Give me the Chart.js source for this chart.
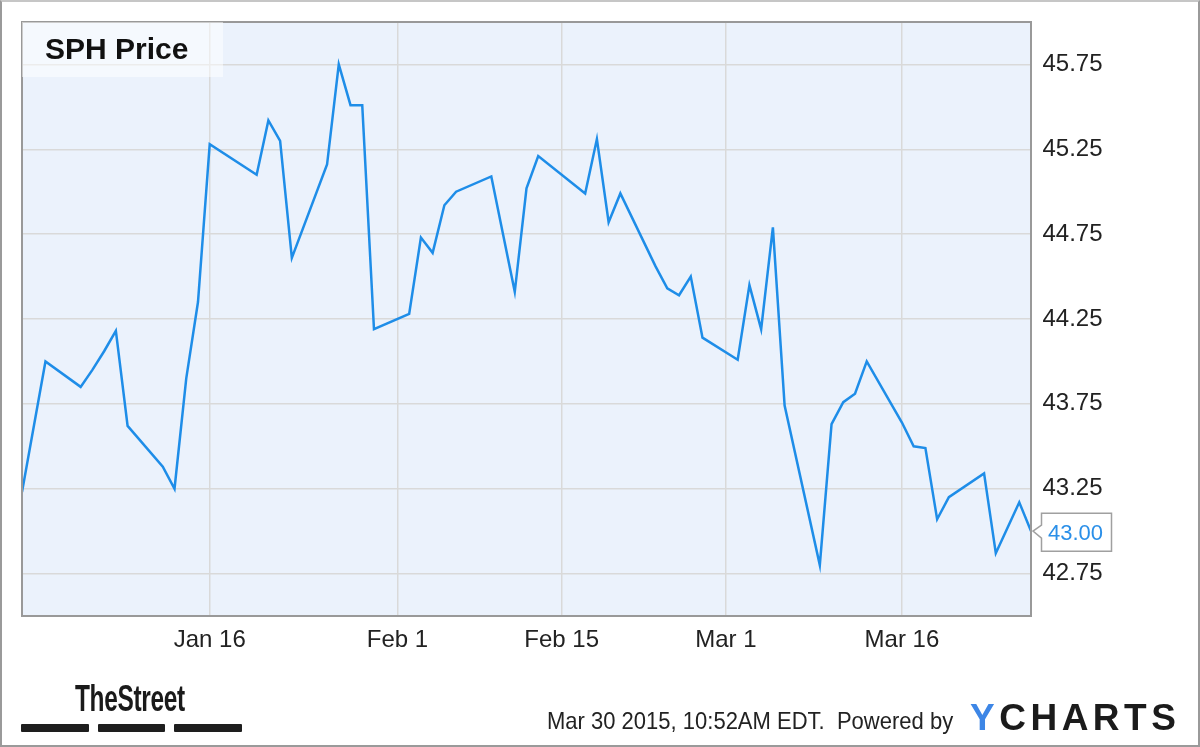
<!DOCTYPE html>
<html>
<head>
<meta charset="utf-8">
<title>SPH Price</title>
<script src="https://cdn.jsdelivr.net/npm/chart.js@4.4.1/dist/chart.umd.min.js"></script>
<style>
html, body { margin: 0; padding: 0; background: #fff; }
#wrap { position: relative; width: 1200px; height: 747px; overflow: hidden; font-family: "Liberation Sans", Arial, sans-serif; }
#chart { position: absolute; left: 0; top: 0; }
#frame { position: absolute; left: 0; top: 0; width: 1200px; height: 747px; box-sizing: border-box; border: 2px solid #9a9a9a; border-top-color: #c6c6c6; pointer-events: none; }
#titlebox { position: absolute; left: 22px; top: 22px; width: 201px; height: 55px; background: rgba(255, 255, 255, 0.5); }
#title { position: absolute; left: 45px; top: 34px; font-weight: bold; font-size: 30px; line-height: 30px; color: #111; white-space: nowrap; }
#street { position: absolute; left: 75px; top: 681px; font-weight: bold; font-size: 36px; line-height: 36px; color: #1a1a1a; transform: scaleX(0.68); transform-origin: left top; white-space: nowrap; letter-spacing: -0.5px; }
.bar { position: absolute; top: 724px; height: 8px; background: #1e1e1e; border-radius: 1px; }
#stamp { position: absolute; left: 547px; top: 709px; font-size: 24px; line-height: 24px; color: #222; transform: scaleX(0.917); transform-origin: left top; white-space: nowrap; }
#ycharts { position: absolute; left: 970px; top: 699px; font-weight: bold; font-size: 37px; line-height: 37px; letter-spacing: 4.5px; color: #1b1b1b; white-space: nowrap; }
#ycharts span { color: #3d86e6; }
</style>
</head>
<body>
<div id="wrap">
  <canvas id="chart" width="1200" height="747"></canvas>
  <div id="titlebox"></div>
  <div id="title">SPH Price</div>
  <div id="street">TheStreet</div>
  <div class="bar" style="left:21px;width:68px"></div>
  <div class="bar" style="left:98px;width:67px"></div>
  <div class="bar" style="left:174px;width:68px"></div>
  <div id="stamp">Mar 30 2015, 10:52AM EDT.&nbsp; Powered by</div>
  <div id="ycharts"><span>Y</span>CHARTS</div>
  <div id="frame"></div>
</div>
<script>
// daily closes, SPH
var dates = [
    '2014-12-31', '2015-01-02', '2015-01-05', '2015-01-06', '2015-01-07', '2015-01-08', '2015-01-09',
    '2015-01-12', '2015-01-13', '2015-01-14', '2015-01-15', '2015-01-16',
    '2015-01-20', '2015-01-21', '2015-01-22', '2015-01-23',
    '2015-01-26', '2015-01-27', '2015-01-28', '2015-01-29', '2015-01-30',
    '2015-02-02', '2015-02-03', '2015-02-04', '2015-02-05', '2015-02-06',
    '2015-02-09', '2015-02-10', '2015-02-11', '2015-02-12', '2015-02-13',
    '2015-02-17', '2015-02-18', '2015-02-19', '2015-02-20',
    '2015-02-23', '2015-02-24', '2015-02-25', '2015-02-26', '2015-02-27',
    '2015-03-02', '2015-03-03', '2015-03-04', '2015-03-05', '2015-03-06',
    '2015-03-09', '2015-03-10', '2015-03-11', '2015-03-12', '2015-03-13',
    '2015-03-16', '2015-03-17', '2015-03-18', '2015-03-19', '2015-03-20',
    '2015-03-23', '2015-03-24', '2015-03-25', '2015-03-26', '2015-03-27'
];
var prices = [
    43.23, 44.00, 43.85, 43.95, 44.06, 44.18, 43.62,
    43.38, 43.25, 43.90, 44.35, 45.28,
    45.10, 45.42, 45.30, 44.61,
    45.16, 45.75, 45.51, 45.51, 44.19,
    44.28, 44.73, 44.64, 44.92, 45.00,
    45.09, 44.75, 44.41, 45.02, 45.21,
    44.99, 45.31, 44.82, 44.99,
    44.56, 44.43, 44.39, 44.50, 44.14,
    44.01, 44.45, 44.19, 44.79, 43.74,
    42.80, 43.63, 43.76, 43.81, 44.00,
    43.64, 43.50, 43.49, 43.07, 43.20,
    43.34, 42.87, 43.02, 43.17, 43.00
];
var xTickDates = ['2015-01-16', '2015-02-01', '2015-02-15', '2015-03-01', '2015-03-16'];
var xTickLabels = ['Jan 16', 'Feb 1', 'Feb 15', 'Mar 1', 'Mar 16'];
var yTicks = [42.75, 43.25, 43.75, 44.25, 44.75, 45.25, 45.75];
var yMin = 42.5, yMax = 46.0;

// days since Jan 1 2015, so the x axis is calendar time
function dayNum(s) {
    var p = s.split('-');
    return (Date.UTC(+p[0], +p[1] - 1, +p[2]) - Date.UTC(2015, 0, 1)) / 86400000;
}
var points = dates.map(function (d, i) { return { x: dayNum(d), y: prices[i] }; });
var xTickDays = xTickDates.map(dayNum);

var plotFrame = {
    id: 'plotFrame',
    beforeDraw: function (chart) {
        var a = chart.chartArea, c = chart.ctx;
        c.save();
        c.fillStyle = '#ebf2fc';
        c.fillRect(a.left, a.top, a.right - a.left, a.bottom - a.top);
        c.restore();
    },
    afterDraw: function (chart) {
        var a = chart.chartArea, c = chart.ctx;
        c.save();
        c.strokeStyle = '#999';
        c.lineWidth = 2;
        c.strokeRect(a.left, a.top, a.right - a.left, a.bottom - a.top);

        // last price callout
        var meta = chart.getDatasetMeta(0);
        var last = meta.data[meta.data.length - 1];
        var px = last.x, py = last.y;
        var l = px + 10.5, r = px + 80.5, t = py - 18, b = py + 20;
        c.beginPath();
        c.moveTo(l, t);
        c.lineTo(r, t);
        c.lineTo(r, b);
        c.lineTo(l, b);
        c.lineTo(l, py + 7);
        c.lineTo(px + 2, py);
        c.lineTo(l, py - 6);
        c.closePath();
        c.fillStyle = '#fff';
        c.fill();
        c.lineWidth = 1.5;
        c.strokeStyle = '#a0a0a0';
        c.stroke();
        c.fillStyle = '#2a8fe8';
        c.font = '22px "Liberation Sans", Arial, sans-serif';
        c.textAlign = 'left';
        c.textBaseline = 'middle';
        c.fillText(prices[prices.length - 1].toFixed(2), l + 6.5, py + 3);
        c.restore();
    }
};

var ctx = document.getElementById('chart').getContext('2d');
new Chart(ctx, {
    type: 'line',
    data: {
        datasets: [{
            label: 'SPH Price',
            data: points,
            borderColor: '#1e8de8',
            borderWidth: 2.5,
            pointRadius: 0,
            tension: 0,
            fill: false
        }]
    },
    options: {
        responsive: false,
        animation: false,
        layout: { padding: { left: 22, top: 22, right: 0, bottom: 0 } },
        plugins: {
            legend: { display: false },
            tooltip: { enabled: false }
        },
        scales: {
            x: {
                type: 'linear',
                min: points[0].x,
                max: points[points.length - 1].x,
                afterBuildTicks: function (axis) {
                    axis.ticks = xTickDays.map(function (v) { return { value: v }; });
                },
                afterFit: function (axis) {
                    axis.height = 131;
                    axis.paddingLeft = 0;
                    axis.paddingRight = 0;
                },
                grid: { color: '#d9d9d9', lineWidth: 1.5, drawTicks: false },
                border: { display: false },
                ticks: {
                    padding: 10,
                    color: '#222',
                    font: { family: '"Liberation Sans", Arial, sans-serif', size: 24 },
                    maxRotation: 0,
                    autoSkip: false,
                    callback: function (value, index) { return xTickLabels[index]; }
                }
            },
            y: {
                position: 'right',
                min: yMin,
                max: yMax,
                afterBuildTicks: function (axis) {
                    axis.ticks = yTicks.map(function (v) { return { value: v }; });
                },
                afterFit: function (axis) {
                    axis.width = 169;
                    axis.paddingTop = 0;
                    axis.paddingBottom = 0;
                },
                grid: { color: '#d9d9d9', lineWidth: 1.5, drawTicks: false },
                border: { display: false },
                ticks: {
                    padding: 11.5,
                    color: '#222',
                    font: { family: '"Liberation Sans", Arial, sans-serif', size: 24 },
                    autoSkip: false,
                    callback: function (value) { return value.toFixed(2); }
                }
            }
        }
    },
    plugins: [plotFrame]
});
</script>
</body>
</html>
